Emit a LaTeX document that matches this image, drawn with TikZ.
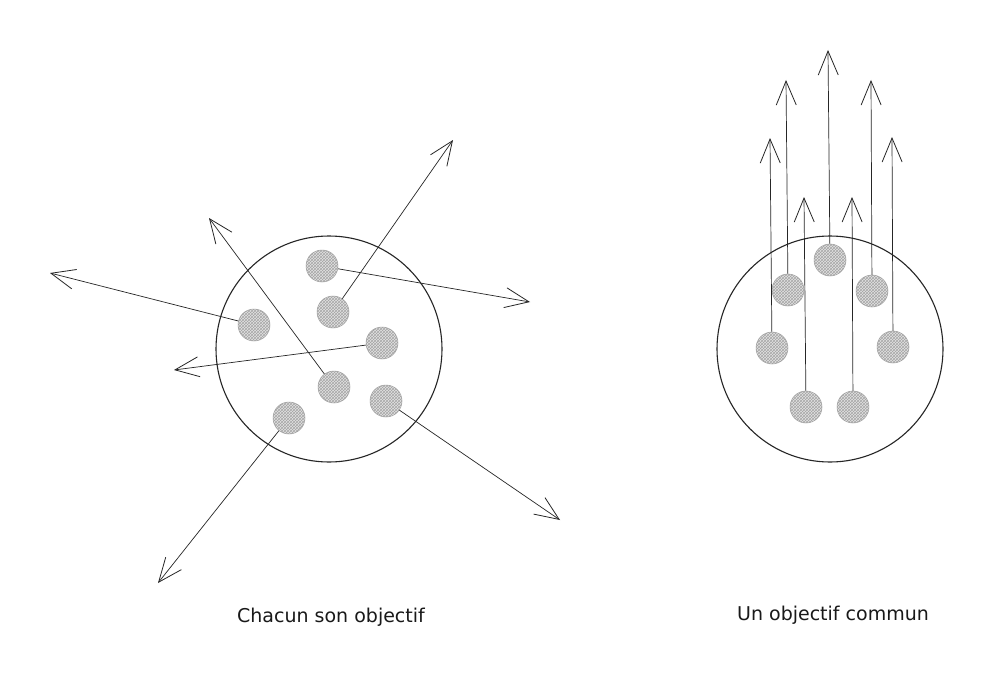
\documentclass[tikz,border=0pt]{standalone}
\usepackage{fontspec}
\newfontfamily\labelfont{DejaVu Sans}
\usetikzlibrary{arrows.meta,patterns}
\begin{document}
\begin{tikzpicture}[x=1pt,y=-1pt,
  bigcircle/.style={circle, draw=black!85, line width=1.1pt, minimum size=226pt, inner sep=0pt},
  member/.style={circle, minimum size=32pt, inner sep=0pt, draw=gray!75, line width=0.5pt,
    preaction={fill=gray!22}, pattern=crosshatch, pattern color=gray!70},
  goal/.style={line width=0.7pt, draw=black!85,
    -{Straight Barb[length=24pt,width=20pt,line width=0.8pt]}},
  caption/.style={anchor=base, inner sep=0pt, font=\labelfont\fontsize{19}{22}\selectfont, text=black!90}]
\useasboundingbox (0,0) rectangle (991,677);
\fill[white] (0,0) rectangle (991,677);

% ---------- left group: each its own goal ----------
\node[bigcircle] (L) at (329,349) {};
\node[member] (A) at (322,266) {};
\node[member] (B) at (333,312) {};
\node[member] (C) at (254,325) {};
\node[member] (D) at (382,343) {};
\node[member] (E) at (334,387) {};
\node[member] (F) at (386,401) {};
\node[member] (G) at (289,418) {};

\coordinate (tA) at (530,302);
\coordinate (tB) at (453,140);
\coordinate (tC) at (50,273);
\coordinate (tD) at (174,370);
\coordinate (tE) at (209,218);
\coordinate (tF) at (560,520);
\coordinate (tG) at (158,583);

\draw[goal] (A) -- (tA);
\draw[goal] (B) -- (tB);
\draw[goal] (C) -- (tC);
\draw[goal] (D) -- (tD);
\draw[goal] (E) -- (tE);
\draw[goal] (F) -- (tF);
\draw[goal] (G) -- (tG);

\node[caption] (capL) at (331,622) {Chacun son objectif};

% ---------- right group: a common goal ----------
\node[bigcircle] (R) at (830,349) {};
\node[member] (R1) at (830,260) {};
\node[member] (R2) at (788,290) {};
\node[member] (R3) at (872,291) {};
\node[member] (R4) at (772,348) {};
\node[member] (R5) at (893,347) {};
\node[member] (R6) at (806,407) {};
\node[member] (R7) at (853,407) {};

\coordinate (u1) at (828,50);
\coordinate (u2) at (786,80);
\coordinate (u3) at (871,80);
\coordinate (u4) at (770,138);
\coordinate (u5) at (892,137);
\coordinate (u6) at (804,197);
\coordinate (u7) at (852,197);

\draw[goal] (R1) -- (u1);
\draw[goal] (R2) -- (u2);
\draw[goal] (R3) -- (u3);
\draw[goal] (R4) -- (u4);
\draw[goal] (R5) -- (u5);
\draw[goal] (R6) -- (u6);
\draw[goal] (R7) -- (u7);

\node[caption] (capR) at (833,620) {Un objectif commun};
\end{tikzpicture}
\end{document}
